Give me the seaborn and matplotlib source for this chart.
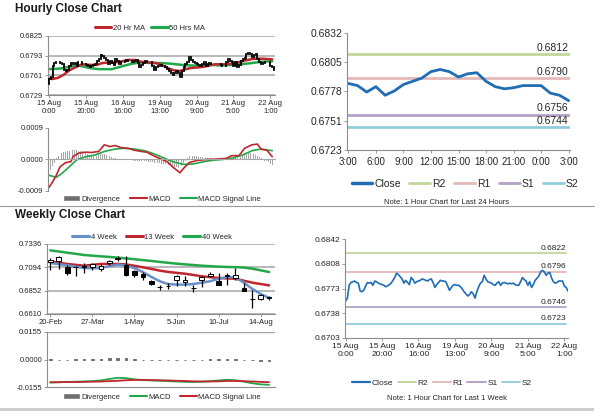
import numpy as np
import matplotlib
matplotlib.use("Agg")
import matplotlib.pyplot as plt
import seaborn as sns
from matplotlib.lines import Line2D
from matplotlib.patches import Patch, Rectangle

sns.set_theme(style="white")
plt.rcParams["font.family"] = ["Liberation Sans", "DejaVu Sans"]

# ---------------- hourly data: 15 Aug 0:00 .. 22 Aug 3:00 ----------------
hourly_close = [
    0.6755, 0.6759, 0.6777, 0.6781, 0.6782, 0.6783, 0.6781, 0.6780, 0.6769, 0.6768,
    0.6770, 0.6776, 0.6781, 0.6780, 0.6781, 0.6777, 0.6783, 0.6782, 0.6780, 0.6779,
    0.6778, 0.6777, 0.6775, 0.6776, 0.6778, 0.6780, 0.6784, 0.6788, 0.6794, 0.6792,
    0.6789, 0.6786, 0.6780, 0.6784, 0.6781, 0.6778, 0.6788, 0.6785, 0.6780, 0.6782,
    0.6783, 0.6784, 0.6786, 0.6785, 0.6784, 0.6783, 0.6785, 0.6786, 0.6781, 0.6774,
    0.6778, 0.6781, 0.6784, 0.6783, 0.6783, 0.6782, 0.6776, 0.6770, 0.6774, 0.6777,
    0.6778, 0.6777, 0.6777, 0.6775, 0.6772, 0.6768, 0.6765, 0.6762, 0.6764, 0.6768,
    0.6765, 0.6759, 0.6768, 0.6775, 0.6780, 0.6782, 0.6791, 0.6786, 0.6782, 0.6781,
    0.6780, 0.6778, 0.6777, 0.6780, 0.6782, 0.6777, 0.6780, 0.6781, 0.6780, 0.6779,
    0.6780, 0.6779, 0.6780, 0.6778, 0.6777, 0.6777, 0.6782, 0.6788, 0.6785, 0.6783,
    0.6777, 0.6782, 0.6774, 0.6778, 0.6784, 0.6787, 0.6790, 0.6796, 0.6798, 0.6796,
    0.6791, 0.6794, 0.6795, 0.6787, 0.6782, 0.6780, 0.6781, 0.6783, 0.6783, 0.6783,
    0.6776, 0.6774, 0.6769,
]
first_open = 0.6747
hourly_ticks = [0, 20, 40, 60, 80, 100, 120]
hourly_ticklabels = ["15 Aug\n0:00", "15 Aug\n20:00", "16 Aug\n16:00", "19 Aug\n13:00",
                     "20 Aug\n9:00", "21 Aug\n5:00", "22 Aug\n1:00"]

ma20_x = [0, 2, 5, 8, 11, 15, 18, 22, 26, 29, 33, 36, 40, 43, 47, 50, 54, 58, 61, 65,
          68, 71, 74, 77, 81, 84, 90, 95, 100, 106, 111, 116, 121]
ma20_y = [0.6756, 0.6755, 0.6757, 0.6762, 0.6769, 0.6775, 0.6779, 0.6778, 0.6778, 0.6781,
          0.6782, 0.6782, 0.6784, 0.6786, 0.6786, 0.6783, 0.6782, 0.6781, 0.6778, 0.6772,
          0.6769, 0.6768, 0.6771, 0.6773, 0.6774, 0.6775, 0.6779, 0.6779, 0.6780, 0.6785,
          0.6788, 0.6788, 0.6787]
ma50_x = [0, 6, 11, 16, 22, 27, 34, 40, 45, 50, 56, 61, 66, 72, 77, 82, 88, 93, 99, 104,
          110, 115, 121]
ma50_y = [0.6771, 0.6772, 0.6775, 0.6777, 0.6773, 0.6771, 0.6771, 0.6776, 0.6780, 0.6782,
          0.6781, 0.6781, 0.6780, 0.6778, 0.6777, 0.6777, 0.6778, 0.6777, 0.6778, 0.6779,
          0.6781, 0.6783, 0.6784]

macd_x = [0, 2, 4, 6, 9, 12, 13, 16, 20, 23, 27, 30, 33, 36, 39, 43, 46, 50, 53, 57,
          60, 64, 67, 71, 73, 76, 80, 85, 90, 96, 99, 103, 106, 110, 113, 115, 118, 121]
macd_y = [-0.00080, -0.00064, -0.00045, -0.00021, -0.00009, -0.00006, 0.00008, 0.00018, 0.00021, 0.00020,
          0.00023, 0.00042, 0.00037, 0.00040, 0.00034, 0.00032, 0.00027, 0.00023, 0.00021, 0.00010,
          0.00003, -0.00006, -0.00021, -0.00038, -0.00025, -0.00009, -0.00003, 0.00000, 0.00001, 0.00003,
          0.00011, 0.00011, 0.00032, 0.00042, 0.00044, 0.00029, 0.00027, 0.00008]
signal_x = [0, 4, 7, 11, 15, 20, 25, 30, 36, 41, 46, 52, 57, 62, 67, 73, 78, 84, 89, 94,
            99, 105, 110, 115, 121]
signal_y = [-0.00045, -0.00051, -0.00040, -0.00021, -0.00001, 0.00008, 0.00013, 0.00023, 0.00030, 0.00032,
            0.00030, 0.00025, 0.00016, 0.00005, -0.00006, -0.00014, -0.00013, -0.00006, -0.00002, 0.00000,
            0.00003, 0.00013, 0.00025, 0.00030, 0.00025]
divergence_h = [
    -0.00035, -0.00030, -0.00020, -0.00010, 0.00003, 0.00010, 0.00015, 0.00018, 0.00020, 0.00022,
    0.00023, 0.00024, 0.00026, 0.00027, 0.00027, 0.00026, 0.00025, 0.00024, 0.00023, 0.00020,
    0.00018, 0.00015, 0.00013, 0.00012, 0.00010, 0.00010, 0.00011, 0.00015, 0.00018, 0.00017,
    0.00016, 0.00014, 0.00012, 0.00010, 0.00007, 0.00004, 0.00003, 0.00002, 0.00001, 0.00000,
    0.00001, 0.00000, -0.00001, -0.00002, -0.00002, -0.00003, -0.00003, -0.00003, -0.00004, -0.00005,
    -0.00004, -0.00003, -0.00004, -0.00005, -0.00006, -0.00006, -0.00007, -0.00009, -0.00010, -0.00010,
    -0.00011, -0.00012, -0.00012, -0.00013, -0.00015, -0.00017, -0.00018, -0.00020, -0.00021, -0.00022,
    -0.00024, -0.00025, -0.00018, -0.00010, -0.00003, 0.00005, 0.00010, 0.00011, 0.00010, 0.00010,
    0.00009, 0.00008, 0.00007, 0.00007, 0.00006, 0.00004, 0.00004, 0.00003, 0.00003, 0.00002,
    0.00002, 0.00001, 0.00001, 0.00001, 0.00000, 0.00000, 0.00002, 0.00004, 0.00006, 0.00007,
    0.00006, 0.00005, 0.00003, 0.00005, 0.00008, 0.00012, 0.00016, 0.00018, 0.00019, 0.00018,
    0.00017, 0.00016, 0.00014, 0.00010, 0.00006, 0.00003, 0.00000, -0.00003, -0.00005, -0.00008,
    -0.00012, -0.00015, -0.00018,
]

# last 24 hours (21 Aug 3:00 .. 22 Aug 3:00)
day_hours = ["3:00", "4:00", "5:00", "6:00", "7:00", "8:00", "9:00", "10:00", "11:00",
             "12:00", "13:00", "14:00", "15:00", "16:00", "17:00", "18:00", "19:00",
             "20:00", "21:00", "22:00", "23:00", "0:00", "1:00", "2:00", "3:00"]
level_names = ["R2", "R1", "S1", "S2"]
day_levels = [0.6812, 0.6790, 0.6756, 0.6744]
week_levels = [0.6822, 0.6796, 0.6746, 0.6723]
day_yticklabels = ["0.6723", "0.6751", "0.6778", "0.6805", "0.6832"]
week_yticklabels = ["0.6703", "0.6738", "0.6773", "0.6808", "0.6842"]

# ---------------- weekly data ----------------
weekly_dates = ["20-Feb", "27-Feb", "6-Mar", "13-Mar", "20-Mar", "27-Mar", "3-Apr", "10-Apr",
                "17-Apr", "24-Apr", "1-May", "8-May", "15-May", "22-May", "29-May", "5-Jun",
                "12-Jun", "19-Jun", "26-Jun", "3-Jul", "10-Jul", "17-Jul", "24-Jul", "31-Jul",
                "7-Aug", "14-Aug", "21-Aug"]
w_open = [0.7150, 0.7156, 0.7094, 0.7094, 0.7094, 0.7094, 0.7077, 0.7136, 0.7180, 0.7122,
          0.7052, 0.7025, 0.6949, 0.6890, 0.6900, 0.6966, 0.6938, 0.6883, 0.6966, 0.7001,
          0.6949, 0.7004, 0.6983, 0.6880, 0.6769, 0.6766, 0.6783]
w_close = [0.7172, 0.7198, 0.7035, 0.7100, 0.7104, 0.7129, 0.7111, 0.7163, 0.7187, 0.7011,
           0.7011, 0.6990, 0.6921, 0.6885, 0.6905, 0.7001, 0.6966, 0.6878, 0.6990, 0.7028,
           0.6914, 0.7018, 0.7018, 0.6852, 0.6766, 0.6811, 0.6780]
w_high = [0.7191, 0.7208, 0.7122, 0.7111, 0.7139, 0.7143, 0.7129, 0.7174, 0.7208, 0.7208,
          0.7063, 0.7042, 0.6966, 0.6914, 0.6928, 0.7011, 0.7001, 0.6914, 0.7001, 0.7042,
          0.7035, 0.7035, 0.7087, 0.6932, 0.6862, 0.6818, 0.6794]
w_low = [0.7070, 0.7080, 0.7018, 0.7008, 0.7035, 0.7070, 0.7060, 0.7122, 0.7156, 0.7001,
         0.6994, 0.6966, 0.6914, 0.6862, 0.6866, 0.6900, 0.6900, 0.6838, 0.6890, 0.6994,
         0.6914, 0.6914, 0.6966, 0.6845, 0.6672, 0.6758, 0.6759]
ma4 = [0.7139, 0.7127, 0.7115, 0.7100, 0.7087, 0.7085, 0.7087, 0.7105, 0.7122, 0.7111,
       0.7085, 0.7045, 0.6995, 0.6950, 0.6920, 0.6915, 0.6915, 0.6921, 0.6935, 0.6950,
       0.6975, 0.6994, 0.6990, 0.6935, 0.6870, 0.6818, 0.6776]
ma13 = [0.7156, 0.7143, 0.7129, 0.7120, 0.7111, 0.7120, 0.7129, 0.7130, 0.7129, 0.7124,
        0.7110, 0.7094, 0.7078, 0.7060, 0.7046, 0.7037, 0.7028, 0.7015, 0.7001, 0.6992,
        0.6983, 0.6979, 0.6976, 0.6955, 0.6935, 0.6921, 0.6907]
ma40 = [0.7270, 0.7258, 0.7246, 0.7234, 0.7222, 0.7215, 0.7208, 0.7202, 0.7195, 0.7186,
        0.7178, 0.7169, 0.7160, 0.7150, 0.7141, 0.7132, 0.7125, 0.7118, 0.7111, 0.7106,
        0.7101, 0.7098, 0.7096, 0.7092, 0.7080, 0.7063, 0.7045]
w_macd = [-0.0130, -0.0128, -0.0127, -0.0125, -0.0124, -0.0122, -0.0118, -0.0110, -0.0103, -0.0105,
          -0.0112, -0.0116, -0.0118, -0.0120, -0.0122, -0.0124, -0.0126, -0.0127, -0.0125, -0.0122,
          -0.0118, -0.0114, -0.0117, -0.0125, -0.0134, -0.0140, -0.0143]
w_signal = [-0.0128, -0.0128, -0.0127, -0.0127, -0.0126, -0.0125, -0.0124, -0.0122, -0.0120, -0.0117,
            -0.0115, -0.0115, -0.0116, -0.0117, -0.0118, -0.0120, -0.0121, -0.0123, -0.0124, -0.0124,
            -0.0123, -0.0121, -0.0121, -0.0122, -0.0124, -0.0126, -0.0128]
w_divergence = [0.0001, 0.0000, 0.0000, 0.0001, 0.0001, 0.0002, 0.0003, 0.0006, 0.0008, 0.0006,
                0.0002, -0.0001, -0.0001, -0.0002, -0.0002, -0.0003, -0.0003, -0.0002, -0.0001, 0.0001,
                0.0002, 0.0003, 0.0002, -0.0002, -0.0005, -0.0007, -0.0007]

# ---------------- colours ----------------
RED = "#c0262d"
GREEN = "#22a84a"
BLUE4 = "#6890c8"
CLOSE = "#1f6db5"
LEVEL_COLORS = ["#c3d69b", "#e6b9b8", "#b3a2c7", "#93cddd"]
AXC = "#8c8c8c"
GRID = "#a6a6a6"

W, H = 600, 413
fig = plt.figure(figsize=(6, 4.13), dpi=100)


def rect(x0, y0, x1, y1):
    return [x0 / W, 1 - y1 / H, (x1 - x0) / W, (y1 - y0) / H]


def style(ax, fs):
    for s in ("top", "right"):
        ax.spines[s].set_visible(False)
    for s in ("left", "bottom"):
        ax.spines[s].set_color(AXC)
        ax.spines[s].set_linewidth(0.8)
    ax.tick_params(labelsize=fs, length=2, width=0.6, color=AXC, labelcolor="#262626",
                   pad=1.5, direction="out", left=True, bottom=True)
    ax.set_xlabel("")
    ax.set_ylabel("")


def legend(handles, labels, x, y, fs, hl=2.2, cs=1.2):
    fig.legend(handles, labels, loc="center", bbox_to_anchor=(x / W, 1 - y / H), ncol=len(labels),
               frameon=False, fontsize=fs, handlelength=hl, handletextpad=0.2,
               columnspacing=cs, borderaxespad=0)


# ================= hourly candle panel =================
ax = fig.add_axes(rect(48, 36, 275, 95))
idx = np.arange(len(hourly_close))
opens = np.array([first_open] + hourly_close[:-1])
closes = np.array(hourly_close)
lo = np.minimum(opens, closes)
hi = np.maximum(opens, closes)
sns.lineplot(x=ma50_x, y=ma50_y, ax=ax, color=GREEN, linewidth=1.8, legend=False)
sns.lineplot(x=ma20_x, y=ma20_y, ax=ax, color=RED, linewidth=1.8, legend=False)
bodies = ax.vlines(idx, lo, hi, color="black", linewidth=1.3, zorder=3)
bodies.set_capstyle("projecting")
ax.set_xlim(-0.5, 122.5)
ax.set_ylim(0.6729, 0.6825)
ax.set_yticks([0.6729, 0.6761, 0.6793, 0.6825])
ax.set_yticklabels(["0.6729", "0.6761", "0.6793", "0.6825"])
ax.set_xticks(hourly_ticks)
ax.set_xticklabels(hourly_ticklabels, linespacing=1.25)
ax.yaxis.grid(True, color=GRID, linewidth=1.1)
ax.set_axisbelow(True)
style(ax, 5.5)
legend([Line2D([], [], color=RED, lw=2.2), Line2D([], [], color=GREEN, lw=2.2)],
       ["20 Hr MA", "50 Hrs MA"], 150, 28, 5.5, cs=0.8)

# ================= hourly MACD panel =================
ax = fig.add_axes(rect(48, 128, 275, 191))
ax.bar(idx, divergence_h, width=0.45, color="#a6a6a6", linewidth=0)
sns.lineplot(x=signal_x, y=signal_y, ax=ax, color=GREEN, linewidth=1.2, legend=False)
sns.lineplot(x=macd_x, y=macd_y, ax=ax, color=RED, linewidth=1.2, legend=False)
ax.set_xlim(-0.5, 122.5)
ax.set_ylim(-0.0009, 0.0009)
ax.set_yticks([-0.0009, 0.0, 0.0009])
ax.set_yticklabels(["-0.0009", "0.0000", "0.0009"])
style(ax, 5.5)
ax.spines["bottom"].set_position(("data", 0))
ax.spines["bottom"].set_color(GRID)
ax.set_xticks([])
legend([Patch(facecolor="#6e6e6e"), Line2D([], [], color=RED, lw=1.5), Line2D([], [], color=GREEN, lw=1.5)],
       ["Divergence", "MACD", "MACD Signal Line"], 162, 199, 5.5)

# ================= weekly candle panel =================
ax = fig.add_axes(rect(47, 244, 275, 314))
widx = np.arange(len(w_close))
sns.lineplot(x=widx, y=ma40, ax=ax, color=GREEN, linewidth=1.8, legend=False)
sns.lineplot(x=widx, y=ma13, ax=ax, color=RED, linewidth=1.8, legend=False)
sns.lineplot(x=widx, y=ma4, ax=ax, color=BLUE4, linewidth=1.8, legend=False)
wo = np.array(w_open)
wc = np.array(w_close)
ax.vlines(widx, w_low, w_high, color="black", linewidth=0.9, zorder=3)
body_lo = np.minimum(wo, wc)
body_h = np.abs(wc - wo)
faces = ["white" if c > o else "black" for o, c in zip(wo, wc)]
ax.bar(widx, body_h, bottom=body_lo, width=0.55, color=faces, edgecolor="black", linewidth=0.7, zorder=4)
ax.set_xlim(-0.4, 26.7)
ax.set_ylim(0.6610, 0.7336)
ax.set_yticks([0.6610, 0.6852, 0.7094, 0.7336])
ax.set_yticklabels(["0.6610", "0.6852", "0.7094", "0.7336"])
ax.set_xticks(widx[::5])
ax.set_xticklabels(weekly_dates[::5])
ax.yaxis.grid(True, color=GRID, linewidth=1.1)
ax.set_axisbelow(True)
style(ax, 5.5)
legend([Line2D([], [], color=BLUE4, lw=2.2), Line2D([], [], color=RED, lw=2.2), Line2D([], [], color=GREEN, lw=2.2)],
       ["4 Week", "13 Week", "40 Week"], 152, 237, 5.5)

# ================= weekly MACD panel =================
ax = fig.add_axes(rect(47, 332, 275, 387))
ax.bar(widx, w_divergence, width=0.3, color="#666666", edgecolor="#666666", linewidth=0.6)
sns.lineplot(x=widx, y=w_macd, ax=ax, color=GREEN, linewidth=1.3, legend=False)
sns.lineplot(x=widx, y=w_signal, ax=ax, color=RED, linewidth=1.3, legend=False)
ax.set_xlim(-0.4, 26.7)
ax.set_ylim(-0.0155, 0.0155)
ax.set_yticks([-0.0155, 0.0, 0.0155])
ax.set_yticklabels(["-0.0155", "0.0000", "0.0155"])
ax.axhline(0.0155, color=GRID, linewidth=1.0, zorder=0)
ax.set_xticks([])
style(ax, 5.5)
legend([Patch(facecolor="#6e6e6e"), Line2D([], [], color=GREEN, lw=1.5), Line2D([], [], color=RED, lw=1.5)],
       ["Divergence", "MACD", "MACD Signal Line"], 162, 397, 5.5)

# ================= last 24 hours panel =================
ax = fig.add_axes(rect(347, 33, 570, 150))
day_close = hourly_close[-len(day_hours):]
didx = np.arange(len(day_hours))
for lv, c in zip(day_levels, LEVEL_COLORS):
    ax.plot([didx[0], didx[-1]], [lv, lv], color=c, linewidth=2.0)
    ax.annotate(f"{lv:.4f}", xy=(didx[-1], lv), xytext=(0, 1), textcoords="offset points",
                ha="right", va="bottom", fontsize=7.5, color="#262626")
sns.lineplot(x=didx, y=day_close, ax=ax, color=CLOSE, linewidth=2.0, legend=False)
ax.set_xlim(-0.15, 24.15)
ax.set_ylim(0.6723, 0.6832)
ax.set_yticks(np.linspace(0.6723, 0.6832, 5))
ax.set_yticklabels(day_yticklabels)
ax.set_xticks(didx[::3])
ax.set_xticklabels(day_hours[::3])
style(ax, 7.5)
ax.tick_params(axis="x", labelsize=7, pad=3)
legend([Line2D([], [], color=CLOSE, lw=2.5)] + [Line2D([], [], color=c, lw=2.0) for c in LEVEL_COLORS],
       ["Close"] + level_names, 465, 184, 7.5, hl=2.0, cs=0.8)
fig.text(447 / W, 1 - 203 / H, "Note: 1 Hour Chart for Last 24 Hours", ha="center", va="center",
         fontsize=5.5, color="#262626")

# ================= last week hourly panel =================
ax = fig.add_axes(rect(345, 239, 568, 338))
for lv, c in zip(week_levels, LEVEL_COLORS):
    ax.plot([idx[0], idx[-2]], [lv, lv], color=c, linewidth=1.3)
    ax.annotate(f"{lv:.4f}", xy=(idx[-2], lv), xytext=(0, 1), textcoords="offset points",
                ha="right", va="bottom", fontsize=6, color="#262626")
sns.lineplot(x=idx, y=hourly_close, ax=ax, color=CLOSE, linewidth=1.2, legend=False)
ax.set_xlim(-0.3, 122)
ax.set_ylim(0.6703, 0.6842)
ax.set_yticks(np.linspace(0.6703, 0.6842, 5))
ax.set_yticklabels(week_yticklabels)
ax.set_xticks(hourly_ticks)
ax.set_xticklabels(hourly_ticklabels, linespacing=1.25)
style(ax, 6)
legend([Line2D([], [], color=CLOSE, lw=1.6)] + [Line2D([], [], color=c, lw=1.4) for c in LEVEL_COLORS],
       ["Close"] + level_names, 442, 383, 6, hl=2.2, cs=0.5)
fig.text(447 / W, 1 - 398 / H, "Note: 1 Hour Chart for Last 1 Week", ha="center", va="center",
         fontsize=5.5, color="#262626")

# ================= titles and separators =================
fig.text(15 / W, 1 - 9 / H, "Hourly Close Chart", fontsize=8.5, fontweight="bold", va="center", color="#1a1a1a")
fig.text(15 / W, 1 - 215 / H, "Weekly Close Chart", fontsize=8.5, fontweight="bold", va="center", color="#1a1a1a")
fig.add_artist(Line2D([0, 0.99], [1 - 206 / H, 1 - 206 / H], color="#9a9a9a", linewidth=0.8))
fig.add_artist(Rectangle((0, 1 - 411 / H), 0.99, 3 / H, facecolor="#cfcfcf", edgecolor="none"))

fig.savefig("out.png", dpi=100)
